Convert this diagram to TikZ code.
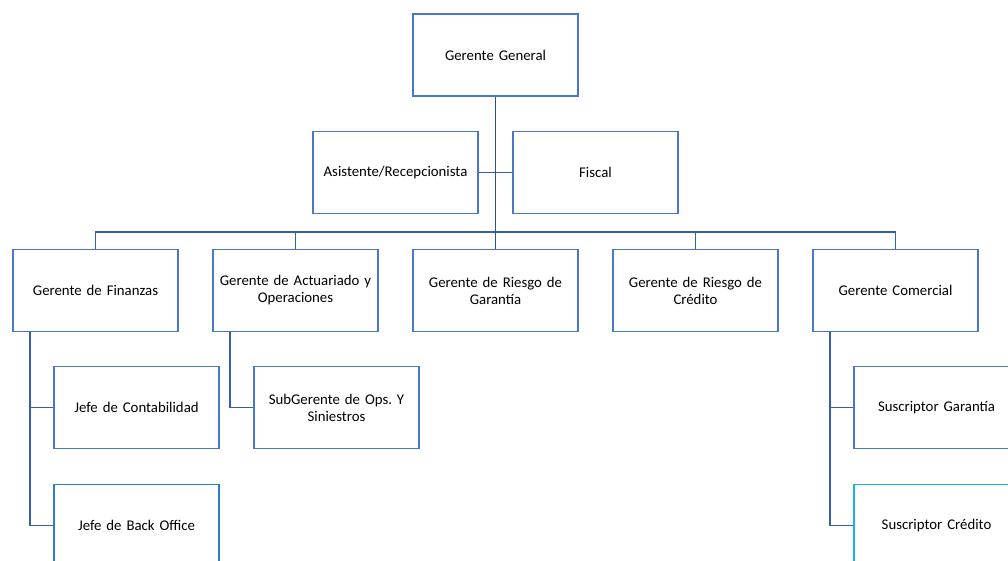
\documentclass[tikz,border=0pt]{standalone}
\usepackage{fontspec}
\setmainfont{Carlito}
\frenchspacing
\begin{document}
\begin{tikzpicture}[x=1pt,y=-1pt,
  box/.style={draw=boxblue,line width=1.2pt,rectangle,minimum width=165pt,minimum height=82pt,
    text width=160pt,align=center,inner sep=0pt,font=\fontsize{14.8}{17}\selectfont,text=black},
  conn/.style={draw=lineblue,line width=1.4pt}]
\definecolor{boxblue}{HTML}{4A78C8}
\definecolor{lineblue}{HTML}{3560A8}
\definecolor{trunkblue}{HTML}{2A4F95}
\definecolor{boblue}{HTML}{2E7CC6}
\definecolor{cyanb}{HTML}{1AB0F0}
\useasboundingbox (0,0) rectangle (1008,561);
\clip (0,0) rectangle (1008,561);
\node[box] (gg) at (495.5,55) {Gerente General};
\node[box] (asis) at (395.5,172.5) {Asistente/Recepcionista};
\node[box] (fis) at (595.5,172.5) {Fiscal};
\node[box] (fin) at (95.5,290.5) {Gerente de Finanzas};
\node[box] (act) at (295.5,290.5) {Gerente de Actuariado y\\Operaciones};
\node[box] (rg) at (495.5,290.5) {Gerente de Riesgo de\\Garantía};
\node[box] (rc) at (695.5,290.5) {Gerente de Riesgo de\\Crédito};
\node[box] (com) at (895.5,290.5) {Gerente Comercial};
\node[box] (jc) at (136.5,407.5) {Jefe de Contabilidad};
\node[box,draw=boblue] (bo) at (136.5,525.5) {Jefe de Back Office};
\node[box] (sub) at (336.5,407.5) {SubGerente de Ops. Y\\Siniestros};
\node[box] (sg) at (936.5,407.5) {Suscriptor Garantía};
\node[box,draw=cyanb] (sc) at (936.5,525.5) {Suscriptor Crédito};
\coordinate (bar) at (495.5,232);
\draw[conn] (asis.east) -- (fis.west);
\draw[conn] (fin.north) -- (fin.north |- bar) -| (com.north);
\draw[conn] (act.north) -- (act.north |- bar);
\draw[conn] (rc.north) -- (rc.north |- bar);
\draw[conn,draw=trunkblue,line width=1.8pt] (gg.south) -- (rg.north);
\draw[conn] ([xshift=-65.5pt]fin.south) |- (jc.west);
\draw[conn] ([xshift=-65.5pt]fin.south) |- (bo.west);
\draw[conn] ([xshift=-65.5pt]act.south) |- (sub.west);
\draw[conn] ([xshift=-65.5pt]com.south) |- (sg.west);
\draw[conn] ([xshift=-65.5pt]com.south) |- (sc.west);
\end{tikzpicture}
\end{document}
